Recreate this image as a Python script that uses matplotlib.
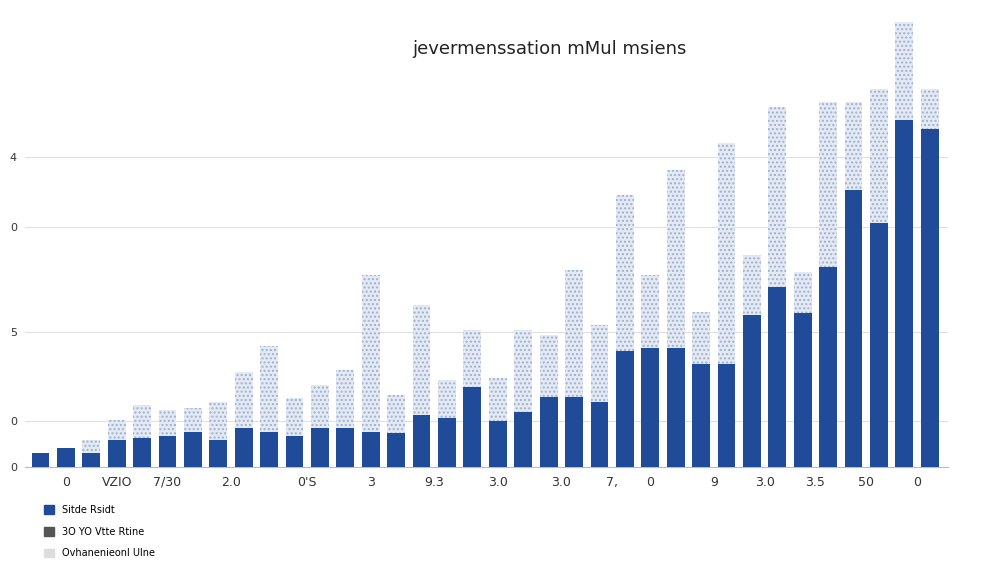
import matplotlib
matplotlib.use("Agg")
import matplotlib.pyplot as plt
import numpy as np

# values (in chart units, baseline 0)
base_vals = [14, 19, 14, 27, 29, 31, 35, 27, 39, 35, 31, 39, 39, 35, 34, 52, 49, 80, 46, 55,
             70, 70, 65, 116, 119, 119, 103, 103, 152, 180, 154, 200, 277, 244, 346, 338]
total_vals = [14, 19, 27, 47, 62, 57, 59, 65, 95, 121, 69, 82, 97, 192, 72, 162, 87, 137, 89, 137,
              132, 197, 142, 272, 192, 297, 155, 324, 212, 359, 195, 364, 364, 377, 444, 377]
tick_labels = ["0", "VZIO", "7/30", "2.0", "0'S", "3", "9.3", "3.0", "3.0", "7,", "0", "9",
               "3.0", "3.5", "50", "0"]
tick_pos = [1, 3, 5, 7.5, 10.5, 13, 15.5, 18, 20.5, 22.5, 24, 26.5, 28.5, 30.5, 32.5, 34.5]
ytick_vals = [0, 46, 135, 240, 310]
ytick_labels = ["0", "0", "5", "0", "4"]
legend_labels = ["Sitde Rsidt", "3O YO Vtte Rtine", "Ovhanenieonl Ulne"]

fig = plt.figure(figsize=(10.08, 5.67), dpi=100)
ax = fig.add_axes([0.025, 0.176, 0.915, 0.79])
x = np.arange(len(base_vals))
top = np.array(total_vals) - np.array(base_vals)
ax.bar(x, base_vals, width=0.7, color="#1f4b99", zorder=3)
ax.bar(x, top, bottom=base_vals, width=0.7, color="#e4e9f2", edgecolor="#9db0d4",
       hatch="....", linewidth=0, zorder=3)
ax.set_xlim(-0.6, len(x) - 0.3)
ax.set_ylim(0, 447)
for v in ytick_vals[1:]:
    ax.axhline(v, color="#e0e0e0", lw=0.8, zorder=0)
ax.set_yticks(ytick_vals)
ax.set_yticklabels(ytick_labels, fontsize=8, color="#333")
ax.tick_params(axis="y", length=0, pad=6)
ax.set_xticks(tick_pos)
ax.set_xticklabels(tick_labels, fontsize=9, color="#333")
ax.tick_params(axis="x", length=0, pad=6)
for s in ["top", "right", "left"]:
    ax.spines[s].set_visible(False)
ax.spines["bottom"].set_color("#bbbbbb")
fig.text(0.545, 0.905, "jevermenssation mMul msiens", ha="center", fontsize=13, color="#222")

from matplotlib.patches import Patch
handles = [Patch(color="#1f4b99"), Patch(color="#555555"), Patch(color="#dddddd")]
fig.legend(handles, legend_labels, loc="lower left", bbox_to_anchor=(0.035, 0.0),
           frameon=False, fontsize=7, handlelength=1, handleheight=1, ncol=1, labelspacing=1.2)
fig.savefig("out.png", dpi=100, facecolor="white")
